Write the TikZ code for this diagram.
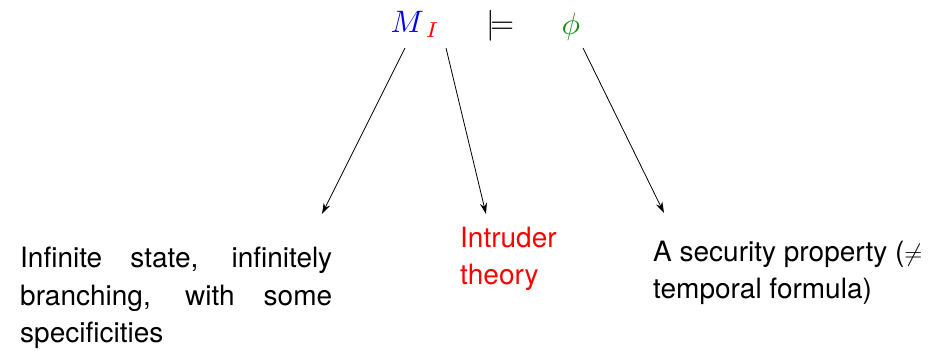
\documentclass[tikz,border=0pt]{standalone}
\usepackage{fontspec}
\setmainfont{TeX Gyre Heros}
\usetikzlibrary{arrows.meta}
\definecolor{phigreen}{RGB}{20,140,20}
\begin{document}
\begin{tikzpicture}[x=1pt,y=-1pt,
  txt/.style={inner sep=0pt, anchor=base west, font=\fontsize{28}{37.5}\selectfont},
  mth/.style={inner sep=0pt, anchor=base west, font=\fontsize{10}{12}\selectfont, scale=3.1},
  sub/.style={inner sep=0pt, anchor=base west, font=\fontsize{7}{8}\selectfont, scale=3.1},
  arr/.style={line width=0.8pt, -{Stealth[length=11pt,width=7pt]}}]
\useasboundingbox (0,0) rectangle (935,352);
\node[mth, text=blue] (M) at (390,33) {$M$};
\node[sub, text=red] (I) at (425,38) {$I$};
\node[mth] (models) at (486,34) {$\models$};
\node[mth, text=phigreen] (phi) at (561,35) {$\phi$};
\coordinate (s1) at (405,48);
\coordinate (s2) at (446,48);
\coordinate (s3) at (583,48);
\coordinate (t1) at (322,214);
\coordinate (t2) at (486,214);
\coordinate (t3) at (664,213);
\node[txt, align=left] (left) at (20,343)
  {\makebox[312pt][s]{Infinite state, infinitely}\\
   \makebox[312pt][s]{branching, with some}\\
   specificities};
\node[txt, align=left, text=red] (intr) at (460,285) {Intruder\\theory};
\node[txt, align=left] (prop) at (653,299) {A security property ($\neq$\\temporal formula)};
\draw[arr] (s1) -- (t1);
\draw[arr] (s2) -- (t2);
\draw[arr] (s3) -- (t3);
\end{tikzpicture}
\end{document}
